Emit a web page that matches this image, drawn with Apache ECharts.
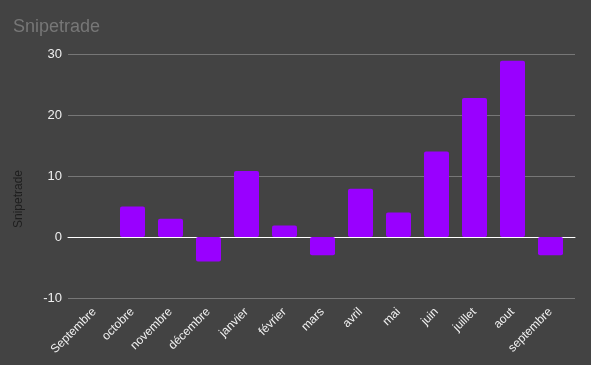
<!DOCTYPE html>
<html><head><meta charset="utf-8">
<script src="https://cdn.jsdelivr.net/npm/echarts@6/dist/echarts.min.js"></script>
<style>html,body{margin:0;padding:0;background:#434343}#c{width:591px;height:365px}</style>
</head><body><div id="c"></div>
<script>
const categories = ["Septembre","octobre","novembre","décembre","janvier","février","mars","avril","mai","juin","juillet","aout","septembre"];
const values = [0, 5, 3, -4, 10.8, 1.9, -3, 7.9, 4, 14, 22.8, 28.9, -3];
const yTicks = [-10, 0, 10, 20, 30];
const chart = echarts.init(document.getElementById('c'));
const font = 'Liberation Sans, Arial, sans-serif';
chart.setOption({
  backgroundColor: '#434343',
  animation: false,
  title: { text: 'Snipetrade', left: 8, top: 13, textStyle: { color: '#777777', fontSize: 18, fontWeight: 'normal', fontFamily: font } },
  graphic: [{
    type: 'text', x: 13, y: 199, rotation: Math.PI / 2,
    style: { text: 'Snipetrade', fill: '#1e1e1e', font: '12px ' + font, align: 'center', verticalAlign: 'top' }
  }],
  grid: [
    { left: 68, right: 16, top: 54, bottom: 67 },
    { left: 75.5, width: 494, top: 54, bottom: 67 }
  ],
  xAxis: [
    { gridIndex: 0, type: 'category', data: categories, axisLine: { show: true, onZero: true, lineStyle: { color: '#ffffff', width: 1 } }, axisTick: { show: false }, axisLabel: { show: false }, splitLine: { show: false } },
    { gridIndex: 1, type: 'category', data: categories, axisLine: { show: false }, axisTick: { show: false },
      axisLabel: { rotate: 45, interval: 0, color: '#f2f2f2', fontSize: 12, fontFamily: font, margin: 12 } }
  ],
  yAxis: [
    { gridIndex: 0, type: 'value', min: yTicks[0], max: yTicks[yTicks.length-1], interval: 10,
      axisLine: { show: false }, axisTick: { show: false },
      axisLabel: { color: '#eeeeee', fontSize: 13, fontFamily: font, margin: 6 },
      splitLine: { show: true, lineStyle: { color: '#777777', width: 1 } } },
    { gridIndex: 1, type: 'value', min: yTicks[0], max: yTicks[yTicks.length-1], interval: 10, show: false, splitLine: { show: false } }
  ],
  series: [{
    type: 'bar', xAxisIndex: 1, yAxisIndex: 1, data: values, barWidth: 25,
    itemStyle: { color: '#9900ff', borderRadius: 2 }, z: 1
  }]
});
</script></body></html>
